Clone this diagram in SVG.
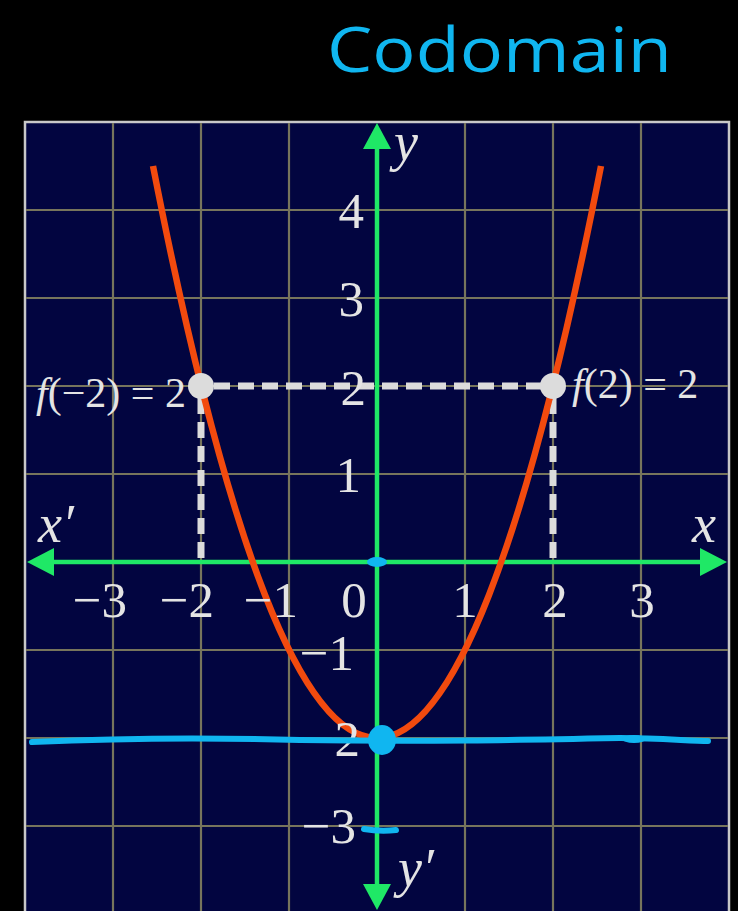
<svg xmlns="http://www.w3.org/2000/svg" width="738" height="911" viewBox="0 0 738 911">
<defs>
<style>
.grid{stroke:#77755c;stroke-width:2.2;fill:none}
.axis{stroke:#1fe866;stroke-width:4.5;fill:none}
.arrow{fill:#1fe866}
.tick{font-family:"Liberation Serif","Times New Roman",serif;font-size:51px;fill:#e4e4e4}
.ital{font-family:"Liberation Serif","Times New Roman",serif;font-size:54px;font-style:italic;fill:#e4e4e4}
.flab{font-family:"Liberation Serif","Times New Roman",serif;font-size:42px;fill:#e4e4e4}
.it{font-style:italic}
.dash{stroke:#dcdcdc;stroke-width:7;stroke-dasharray:16 8;fill:none}
.pt{fill:#dcdcdc}
.ink{stroke:#10b6f0;stroke-width:6;stroke-linecap:round;fill:none}
.inkf{fill:#10b6f0}
</style>
</defs>
<rect width="738" height="911" fill="#000"/>
<g id="panel">
<rect x="25" y="122" width="704" height="800" fill="#020540" stroke="#c8c8c8" stroke-width="2.5"/>
</g>
<g id="grid">
<path class="grid" d="M113 123V911M201 123V911M289 123V911M465 123V911M553 123V911M641 123V911M26 210H728M26 298H728M26 386H728M26 474H728M26 650H728M26 738H728M26 826H728"/>
</g>
<g id="connectors">
<line class="axis" x1="50" y1="562" x2="705" y2="562"/>
<polygon class="arrow" points="27,562 54,548 54,576"/>
<polygon class="arrow" points="727,562 700,548 700,576"/>
<line class="axis" x1="377" y1="145" x2="377" y2="888"/>
<polygon class="arrow" points="377,123 363,149 391,149"/>
<polygon class="arrow" points="377,910 363,884 391,884"/>
<path class="dash" d="M214 386H541"/>
<path class="dash" d="M201 398V560M553 398V560"/>
</g>
<g id="curve">
<path d="M153 166Q377 1310 601 166" stroke="#f24a0e" stroke-width="6.5" fill="none"/>
</g>
<g id="points">
<circle class="pt" cx="201" cy="386" r="13"/>
<circle class="pt" cx="553" cy="386" r="13"/>
</g>
<g id="ticks">
<text class="tick" x="364" y="228" text-anchor="end">4</text>
<text class="tick" x="364" y="316" text-anchor="end">3</text>
<text class="tick" x="366" y="405" text-anchor="end">2</text>
<text class="tick" x="361" y="492" text-anchor="end">1</text>
<text class="tick" x="354" y="670" text-anchor="end">−1</text>
<text class="tick" x="360" y="756" text-anchor="end">−2</text>
<text class="tick" x="356" y="843" text-anchor="end">−3</text>
<text class="tick" x="127" y="617" text-anchor="end">−3</text>
<text class="tick" x="214" y="617" text-anchor="end">−2</text>
<text class="tick" x="298" y="617" text-anchor="end">−1</text>
<text class="tick" x="354" y="617" text-anchor="middle">0</text>
<text class="tick" x="465" y="617" text-anchor="middle">1</text>
<text class="tick" x="555" y="617" text-anchor="middle">2</text>
<text class="tick" x="642" y="617" text-anchor="middle">3</text>
</g>
<g id="axis-labels">
<text class="ital" x="394" y="160">y</text>
<text class="ital" x="692" y="542">x</text>
<text class="ital" x="38" y="542">x′</text>
<text class="ital" x="398" y="886">y′</text>
</g>
<g id="f-labels">
<text class="flab" x="36" y="407"><tspan class="it">f</tspan>(−2) = 2</text>
<text class="flab" x="572" y="398"><tspan class="it">f</tspan>(2) = 2</text>
</g>
<g id="annotations">
<text x="327" y="72" font-family="'Open Sans','DejaVu Sans',sans-serif" font-size="62" fill="#10b6f0" textLength="345" lengthAdjust="spacingAndGlyphs">Codomain</text>
<path class="ink" d="M32 742C120 738 200 737 300 740C420 742 520 740 620 738C660 738 690 741 708 741"/>
<ellipse class="inkf" cx="382" cy="740" rx="14" ry="15"/>
<ellipse class="inkf" cx="634" cy="739" rx="12" ry="4"/>
<ellipse class="inkf" cx="377" cy="562" rx="10" ry="5"/>
<path class="ink" d="M364 829C375 831 388 831 396 830"/>
</g>
</svg>
